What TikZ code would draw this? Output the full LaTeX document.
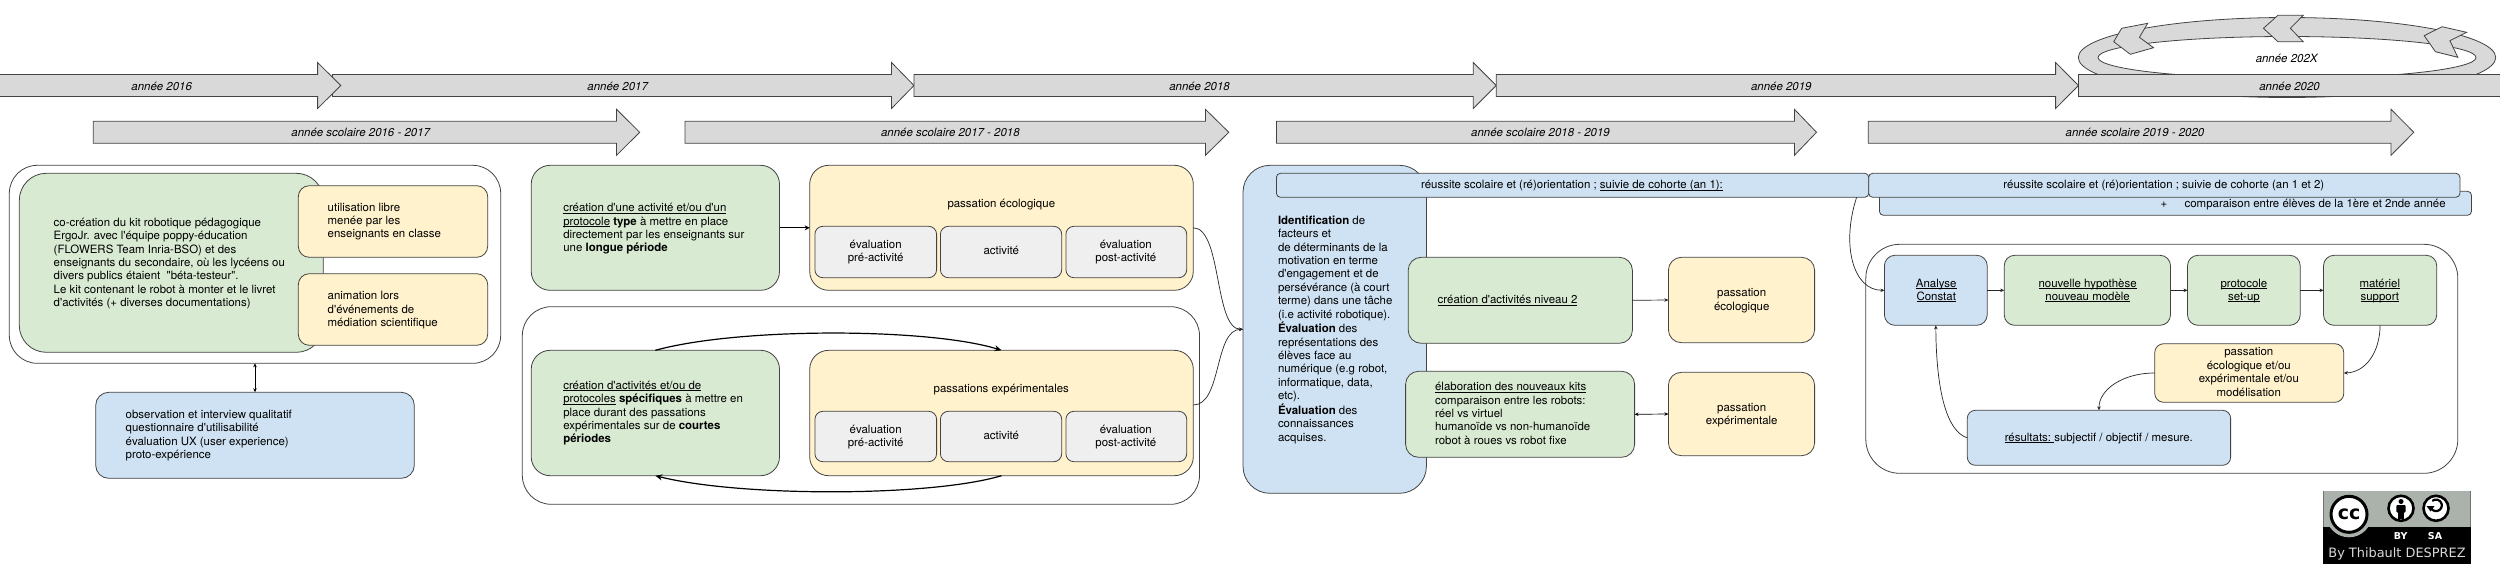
\documentclass[tikz,border=0pt]{standalone}
\usepackage{fontspec}
\setmainfont[Ligatures=TeXOff]{TeX Gyre Heros}
\newfontfamily\badgefont{DejaVu Sans}
\usetikzlibrary{arrows.meta}
\definecolor{linec}{HTML}{434343}
\definecolor{arrowc}{HTML}{D9D9D9}
\definecolor{greenc}{HTML}{D9EAD3}
\definecolor{yellowc}{HTML}{FFF2CC}
\definecolor{bluec}{HTML}{CFE2F3}
\definecolor{grayc}{HTML}{EFEFEF}
\definecolor{badgec}{HTML}{AAB2AB}
\newcommand\mainsize{\fontsize{11.45}{13.4}\selectfont}
\tikzset{
  base box/.style={draw=linec,line width=0.8pt,inner sep=0pt,outer sep=0pt,rectangle,rounded corners=#1},
  frame box/.style={base box=#1,fill=white},
  green box/.style={base box=#1,fill=greenc},
  yellow box/.style={base box=#1,fill=yellowc},
  blue box/.style={base box=#1,fill=bluec},
  gray box/.style={base box=#1,fill=grayc},
  year band/.style={draw=linec,line width=0.8pt,fill=arrowc},
  band label/.style={font=\mainsize\itshape,inner sep=0pt},
  link/.style={draw=black!85,line width=0.7pt,-{Stealth[length=4pt,width=3.5pt]}},
  both link/.style={draw=black,line width=0.7pt,{Stealth[length=4pt,width=3.5pt]}-{Stealth[length=4pt,width=3.5pt]}},
  heavy link/.style={draw=black,line width=1.2pt,-{Stealth[length=7pt,width=6pt]}},
  every node/.append style={font=\mainsize}
}
% style, name, x0, y0, x1, y1, text x, text y, text
\newcommand\boxnode[9]{%
  \pgfmathsetmacro\bw{#5-#3}\pgfmathsetmacro\bh{#6-#4}%
  \pgfmathsetmacro\bcx{(#3+#5)/2}\pgfmathsetmacro\bcy{(#4+#6)/2}%
  \pgfmathsetmacro\tpad{#7-#3}\pgfmathsetmacro\trise{\bcy-#8-2.8}%
  \node[#1,minimum width=\bw pt,minimum height=\bh pt] (#2) at (\bcx,\bcy)
   {\makebox[\bw pt][l]{\hspace*{\tpad pt}\smash{\raisebox{\trise pt}{\makebox[0pt][\boxal]{\begin{tabular}{@{}\boxtab@{}}#9\end{tabular}}}}}};}
\newcommand\lbox{\def\boxal{l}\def\boxtab{l}\boxnode}
\newcommand\cbox{\def\boxal{c}\def\boxtab{c}\boxnode}
% name, x0, head base, tip, y centre, text x, text
\newcommand\yeararrow[7]{%
  \pgfmathsetmacro\ya{#5-11}\pgfmathsetmacro\yb{#5+11}%
  \pgfmathsetmacro\yc{#5-23}\pgfmathsetmacro\yd{#5+23}%
  \draw[year band] (#2,\ya) -- (#3,\ya) -- (#3,\yc) -- (#4,#5) -- (#3,\yd) -- (#3,\yb) -- (#2,\yb) -- cycle;
  \node[band label] (#1) at (#6,#5+0.5) {#7};}
\newsavebox\ulsave
\newcommand\ul[1]{\sbox\ulsave{#1}\rlap{\rule[-1.6pt]{\wd\ulsave}{0.65pt}}\usebox\ulsave}
\begin{document}
\begin{tikzpicture}[x=1pt,y=-1pt]
\useasboundingbox (0,0) rectangle (2500,584);
\clip (0,0) rectangle (2500,584);
\fill[white] (0,0) rectangle (2500,584);

% ---- timeline
\yeararrow{y17}{332.5}{891.5}{914}{85.5}{617.7}{année 2017}
\yeararrow{y16}{-5}{317.6}{340.8}{85.5}{161.7}{année 2016}
\yeararrow{y18}{914}{1473.3}{1496.2}{85.5}{1199.5}{année 2018}
\yeararrow{y19}{1496.2}{2055.6}{2078.4}{85.5}{1781.3}{année 2019}
\draw[year band,even odd rule] (2287,57.5) ellipse [x radius=208.7,y radius=40]
  (2287,57.5) ellipse [x radius=189,y radius=21];
\draw[year band] (2147.7,23.3) -- (2139.4,37.3) -- (2153.5,47.7) -- (2130.3,54.3) -- (2113.7,41.7) -- (2121.6,28.3) -- cycle;
\draw[year band] (2303.2,15.3) -- (2290.3,28.3) -- (2303.2,41.7) -- (2277.9,41.7) -- (2263.4,28.3) -- (2277.9,15.3) -- cycle;
\draw[year band] (2466.5,32.3) -- (2449.9,40.7) -- (2457.8,57.3) -- (2435.4,51.7) -- (2424.2,35.7) -- (2442,26.7) -- cycle;
\node[band label] (y2x) at (2286.6,58.3) {année 202X};
\yeararrow{y20}{2078.4}{2530}{2550}{85.5}{2289.5}{année 2020}
\yeararrow{s16}{93.3}{616.5}{639.7}{132.3}{360.7}{année scolaire 2016 - 2017}
\yeararrow{s17}{685}{1205.4}{1228.8}{132.3}{950.4}{année scolaire 2017 - 2018}
\yeararrow{s18}{1276.4}{1794.4}{1816.5}{132.3}{1540.5}{année scolaire 2018 - 2019}
\yeararrow{s19}{1868.2}{2391}{2413.8}{132.3}{2135}{année scolaire 2019 - 2020}

% ---- first group
\cbox{frame box=28pt}{outerone}{9.3}{165.3}{500.7}{363.3}{255}{264}{}
\lbox{green box=27pt}{kit}{19.3}{173.3}{323.3}{352.3}{53.7}{263.7}{co-création du kit robotique pédagogique\\ErgoJr. avec l'équipe poppy-éducation\\(FLOWERS Team Inria-BSO) et des\\enseignants du secondaire, où les lycéens ou\\divers publics étaient \ "béta-testeur".\\Le kit contenant le robot à monter et le livret\\d'activités (+ diverses documentations)}
\lbox{yellow box=11pt}{libre}{298.3}{185.7}{487.7}{257.3}{327.7}{221.7}{utilisation libre\\menée par les\\enseignants en classe}
\lbox{yellow box=11pt}{anim}{298.3}{273.7}{487.7}{345.3}{327.7}{310.3}{animation lors\\d'événements de\\médiation scientifique}
\lbox{blue box=13pt}{obs}{95.7}{392.3}{414.3}{478.3}{125.7}{435.7}{observation et interview qualitatif\\questionnaire d'utilisabilité\\évaluation UX (user experience)\\proto-expérience}
\draw[both link] (outerone.south) -- (obs.north);

% ---- second group
\lbox{green box=19pt}{ga}{531.2}{165.3}{779.5}{290.3}{563.3}{229}{\ul{création d'une activité et/ou d'un}\\\ul{protocole} \textbf{type} à mettre en place\\directement par les enseignants sur\\une \textbf{longue période}}
\cbox{yellow box=19pt}{ya}{809.7}{165.3}{1193.3}{290.3}{1001.3}{205}{passation écologique}
\cbox{gray box=8pt}{gaa}{814.9}{226.3}{936.6}{277.7}{875.7}{252}{évaluation\\pré-activité}
\cbox{gray box=8pt}{gab}{940.4}{226.3}{1061.7}{277.7}{1001.3}{252}{activité}
\cbox{gray box=8pt}{gac}{1065.9}{226.3}{1186.7}{277.7}{1125.8}{252}{évaluation\\post-activité}
\draw[heavy link,line width=1pt,-{Stealth[length=5pt,width=5pt]}] (ga.east) -- (ya.west);

\cbox{frame box=29pt}{outertwo}{522.3}{306.7}{1199.5}{504.3}{860}{405}{}
\lbox{green box=19pt}{gb}{531.2}{350.3}{779.5}{475.7}{563.3}{413.3}{\ul{création d'activités et/ou de}\\\ul{protocoles} \textbf{spécifiques} à mettre en\\place durant des passations\\expérimentales sur de \textbf{courtes}\\\textbf{périodes}}
\cbox{yellow box=19pt}{yb}{809.7}{350.3}{1193.3}{475.7}{1001.3}{389.3}{passations expérimentales}
\cbox{gray box=8pt}{gba}{814.9}{411.3}{936.6}{461.7}{875.7}{437}{évaluation\\pré-activité}
\cbox{gray box=8pt}{gbb}{940.4}{411.3}{1061.7}{461.7}{1001.3}{437}{activité}
\cbox{gray box=8pt}{gbc}{1065.9}{411.3}{1186.7}{461.7}{1125.8}{437}{évaluation\\post-activité}
\draw[heavy link] (gb.north) .. controls (740,327) and (930,328) .. (yb.north);
\draw[heavy link] (yb.south) .. controls (930,497) and (740,497) .. (gb.south);

% ---- centre blue column
\lbox{blue box=27pt}{ident}{1243}{165.3}{1426.4}{493.3}{1278}{330}{\textbf{Identification} de\\facteurs et\\de déterminants de la\\motivation en terme\\d'engagement et de\\persévérance (à court\\terme) dans une tâche\\(i.e activité robotique).\\\textbf{Évaluation} des\\représentations des\\élèves face au\\numérique (e.g robot,\\informatique, data,\\etc).\\\textbf{Évaluation} des\\connaissances\\acquises.}
\draw[link] (ya.east) .. controls (1222,228) and (1214,329.3) .. (ident.west);
\draw[link] ([yshift=8pt]yb.east) .. controls (1222,405) and (1214,329.3) .. (ident.west);

\cbox{blue box=4pt}{reua}{1276.4}{173.3}{1868.8}{197.3}{1572}{186}{réussite scolaire et (ré)orientation ; \ul{suivie de cohorte (an 1):}}
\lbox{green box=13pt}{gc}{1408.2}{257.3}{1632.4}{343.3}{1437.7}{301}{\ul{création d'activités niveau 2}}
\cbox{yellow box=13pt}{yc}{1668.4}{257.3}{1814.6}{342.7}{1741.7}{300.7}{passation\\écologique}
\lbox{green box=13pt}{gd}{1405.6}{371.3}{1634.6}{457.3}{1435.1}{414.7}{\ul{élaboration des nouveaux kits}\\comparaison entre les robots:\\réel vs virtuel\\humanoïde vs non-humanoïde\\robot à roues vs robot fixe}
\cbox{yellow box=13pt}{yd}{1668.4}{372.3}{1814.6}{455.7}{1741.7}{415}{passation\\expérimentale}
\draw[link] (gc.east) -- (yc.west);
\draw[both link] (gd.east) -- (yd.west);

% ---- right group
\lbox{blue box=4pt}{reuc}{1879.4}{191.3}{2471.5}{215.3}{2160.5}{204.3}{\makebox[24.1pt][l]{+}comparaison entre élèves de la 1ère et 2nde année}
\cbox{blue box=4pt}{reub}{1868.7}{173.3}{2459.9}{197.3}{2163.8}{186}{réussite scolaire et (ré)orientation ; suivie de cohorte (an 1 et 2)}
\cbox{frame box=34pt}{outerthree}{1865.8}{244.3}{2457.8}{473.3}{2160}{360}{}
\cbox{blue box=10.5pt}{ana}{1884.4}{255.3}{1987.2}{325.3}{1936.2}{291}{\ul{Analyse}\\\ul{Constat}}
\cbox{green box=10.5pt}{hyp}{2004.2}{255.3}{2170.5}{325.3}{2087.6}{291}{\ul{nouvelle hypothèse}\\\ul{nouveau modèle}}
\cbox{green box=10.5pt}{pro}{2187.5}{255.3}{2300.2}{325.3}{2243.9}{291}{\ul{protocole}\\\ul{set-up}}
\cbox{green box=10.5pt}{mat}{2323.5}{255.3}{2436.7}{325.3}{2379.8}{291}{\ul{matériel}\\\ul{support}}
\cbox{yellow box=9pt}{pas}{2154.7}{343.7}{2343.8}{402.3}{2248.8}{373.3}{passation\\écologique et/ou\\expérimentale et/ou\\modélisation}
\cbox{blue box=8pt}{res}{1967.3}{410.3}{2230.6}{465.3}{2098.8}{438.3}{\ul{résultats:\ }subjectif / objectif / mesure.}
\draw[link] (ana.east) -- (hyp.west);
\draw[link] (hyp.east) -- (pro.west);
\draw[link] (pro.east) -- (mat.west);
\draw[link] (mat.south) .. controls (2379.8,352) and (2366,372.3) .. (pas.east);
\draw[link] (pas.west) .. controls (2122,373) and (2098.8,390) .. (res.north);
\draw[link] (res.west) .. controls (1948,432) and (1936.2,395) .. (ana.south);
\draw[link] ([xshift=-12.2pt]reua.south east) .. controls (1841,245) and (1853,290.3) .. (ana.west);

% ---- licence badge
\fill[black] (2323.3,490.7) rectangle (2470.7,563.7);
\begin{scope}
\clip (2323.3,490.7) rectangle (2470.7,563.7);
\fill[badgec] (2323.3,490.7) rectangle (2470.7,526.7);
\fill[badgec] (2349,514.3) circle (23);
\end{scope}
\node[circle,draw=black,line width=3pt,fill=white,minimum size=36pt,inner sep=0pt,font=\badgefont\bfseries\fontsize{19}{19}\selectfont] (ccmark) at (2349,514.3) {cc};
\node[circle,draw=black,line width=2.6pt,fill=white,minimum size=25pt,inner sep=0pt] (bymark) at (2401,508.3) {};
\fill[black] (2401,501.5) circle (2.5);
\fill[black,rounded corners=1pt] (2396.3,505) rectangle (2405.7,512.5);
\fill[black] (2398,512) rectangle (2404,519);
\node[circle,draw=black,line width=2.6pt,fill=white,minimum size=25pt,inner sep=0pt] (samark) at (2436,508.3) {};
\draw[black,line width=2.2pt] (2430.4,506.8) arc[start angle=165,end angle=-130,radius=5.8];
\fill[black] (2426.5,506) -- (2434.5,506) -- (2430.5,511.5) -- cycle;
\node[font=\badgefont\bfseries\fontsize{9.5}{10}\selectfont,text=white,inner sep=0pt] (bytext) at (2400.7,535.7) {BY};
\node[font=\badgefont\bfseries\fontsize{9.5}{10}\selectfont,text=white,inner sep=0pt] (satext) at (2435,535.7) {SA};
\node[font=\badgefont\fontsize{12.9}{13}\selectfont,text=white!85!black,inner sep=0pt] (author) at (2397,554) {By Thibault DESPREZ};
\end{tikzpicture}
\end{document}
